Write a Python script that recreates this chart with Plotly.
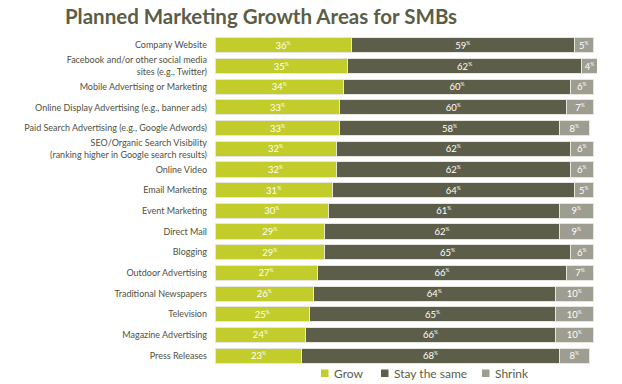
import plotly.graph_objects as go

categories = [
    "Company Website",
    "Facebook and/or other social media<br>sites (e.g., Twitter)",
    "Mobile Advertising or Marketing",
    "Online Display Advertising (e.g., banner ads)",
    "Paid Search Advertising (e.g., Google Adwords)",
    "SEO/Organic Search Visibility<br>(ranking higher in Google search results)",
    "Online Video",
    "Email Marketing",
    "Event Marketing",
    "Direct Mail",
    "Blogging",
    "Outdoor Advertising",
    "Traditional Newspapers",
    "Television",
    "Magazine Advertising",
    "Press Releases",
]
grow = [36, 35, 34, 33, 33, 32, 32, 31, 30, 29, 29, 27, 26, 25, 24, 23]
stay = [59, 62, 60, 60, 58, 62, 62, 64, 61, 62, 65, 66, 64, 65, 66, 68]
shrink = [5, 4, 6, 7, 8, 6, 6, 5, 9, 9, 6, 7, 10, 10, 10, 8]

series_names = ["Grow", "Stay the same", "Shrink"]
series_colors = ["#c2cd2c", "#5c5e4a", "#9d9d91"]
series_values = [grow, stay, shrink]

FONT = "Lato"
W, H = 622, 384
ML, MR, MT, MB = 215, 25, 35, 18
PW, PH = W - ML - MR, H - MT - MB


def px_x(px):
    return (px - ML) / PW


def px_y(py):
    return (H - MB - py) / PH


fig = go.Figure()
for name, vals, color in zip(series_names, series_values, series_colors):
    fig.add_trace(go.Bar(
        y=categories, x=vals, name=name, orientation="h",
        marker=dict(color=color, line=dict(color="#e6e6df", width=1)),
        text=[f"{v}<sup><span style='font-size:5px'>%</span></sup>" for v in vals],
        textposition="inside", insidetextanchor="middle",
        textangle=0, constraintext="none",
        textfont=dict(color="white", size=9.5, family=FONT),
        width=0.73,
        hoverinfo="x+y+name",
        showlegend=False,
    ))

# manual legend
legend_sq = [321, 381, 482]
for name, color, sx in zip(series_names, series_colors, legend_sq):
    fig.add_shape(type="rect", xref="paper", yref="paper",
                  x0=px_x(sx), x1=px_x(sx + 7.5), y0=px_y(377), y1=px_y(369.5),
                  fillcolor=color, line=dict(width=0))
    fig.add_annotation(text=name, xref="paper", yref="paper",
                       x=px_x(sx + 11), y=px_y(373.5), xanchor="left", yanchor="middle",
                       showarrow=False,
                       font=dict(family=FONT, size=12, color="#5b5d47"))

fig.update_layout(
    width=W, height=H,
    barmode="stack", bargap=0.27,
    plot_bgcolor="white", paper_bgcolor="white",
    margin=dict(l=ML, r=MR, t=MT, b=MB, autoexpand=False),
    title=dict(text="<b>Planned Marketing Growth Areas for SMBs</b>",
               x=261 / W, xanchor="center", xref="container",
               y=1 - 17 / H, yref="container", yanchor="middle",
               font=dict(family=FONT, size=20.5, color="#5b5d47")),
    xaxis=dict(range=[0, 101], visible=False, fixedrange=True, automargin=False),
    yaxis=dict(autorange="reversed", showgrid=False, showline=False, zeroline=False,
               ticks="", ticklabelstandoff=7, automargin=False,
               tickfont=dict(family=FONT, size=9, color="#505043")),
    showlegend=False,
)

fig.write_html("out.html", config={"displayModeBar": False},
               post_script="document.body.style.margin='0px';")
